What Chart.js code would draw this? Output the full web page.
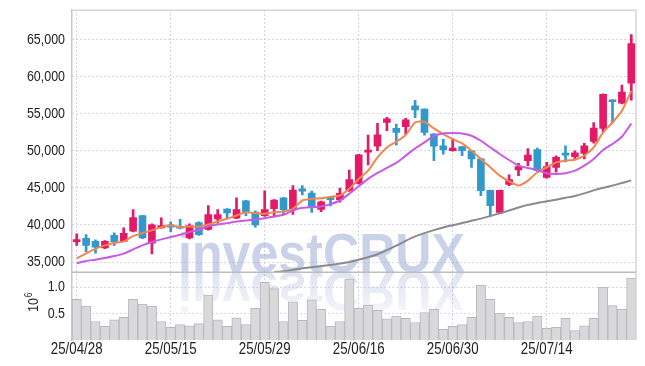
<!DOCTYPE html>
<html>
<head>
<meta charset="utf-8">
<script src="https://cdn.jsdelivr.net/npm/chart.js@4.4.1/dist/chart.umd.min.js"></script>
<style>
  html, body { margin: 0; padding: 0; background: #fff; }
  canvas { display: block; }
</style>
</head>
<body>
<canvas id="chart" width="645" height="366"></canvas>
<script>
// Daily candles
const dates = [
  "25/04/28", "25/04/29", "25/04/30", "25/05/02", "25/05/07", "25/05/08", "25/05/09", "25/05/12", "25/05/13", "25/05/14",
  "25/05/15", "25/05/16", "25/05/19", "25/05/20", "25/05/21", "25/05/22", "25/05/23", "25/05/26", "25/05/27", "25/05/28",
  "25/05/29", "25/05/30", "25/06/02", "25/06/04", "25/06/05", "25/06/09", "25/06/10", "25/06/11", "25/06/12", "25/06/13",
  "25/06/16", "25/06/17", "25/06/18", "25/06/19", "25/06/20", "25/06/23", "25/06/24", "25/06/25", "25/06/26", "25/06/27",
  "25/06/30", "25/07/01", "25/07/02", "25/07/03", "25/07/04", "25/07/07", "25/07/08", "25/07/09", "25/07/10", "25/07/11",
  "25/07/14", "25/07/15", "25/07/16", "25/07/17", "25/07/18", "25/07/21", "25/07/22", "25/07/23", "25/07/24", "25/07/25"
];
const openPrices = [
  37750, 38200, 37800, 36900, 38600, 37780, 39150, 41250, 37550, 39600,
  40000, 39800, 38250, 40300, 39400, 40800, 42150, 40900, 43250, 41700,
  41250, 42200, 43650, 42200, 44850, 44300, 42100, 43700, 43400, 44650,
  45600, 49800, 50600, 53800, 53000, 53250, 56050, 55600, 52250, 50650,
  50000, 50550, 50000, 48900, 44650, 41700, 45450, 47400, 48650, 50150,
  46400, 47750, 49550, 49200, 49650, 51250, 53000, 56800, 56400, 59100
];
const highPrices = [
  38800, 38700, 38000, 37900, 38950, 39600, 42050, 41300, 40150, 40950,
  40400, 40750, 40150, 40400, 42600, 42050, 42200, 43650, 43300, 41900,
  44600, 43400, 43700, 45300, 45300, 44550, 43200, 43850, 44950, 47400,
  49500, 52100, 53700, 54500, 53600, 54350, 56800, 55650, 52300, 51550,
  51650, 50600, 50050, 49000, 44700, 44700, 46750, 48300, 50300, 50350,
  48450, 49300, 50650, 50000, 51000, 53800, 57650, 56850, 58850, 65650
];
const lowPrices = [
  37250, 36350, 36200, 36800, 37250, 37700, 39050, 38150, 36100, 39550,
  39050, 39450, 38100, 38600, 39300, 40250, 40850, 40850, 41250, 39700,
  41150, 41050, 41500, 41400, 44050, 41700, 41800, 42550, 43050, 44500,
  45500, 48100, 50000, 52700, 50750, 52250, 54450, 52100, 48650, 49550,
  49950, 49330, 47750, 43950, 41250, 41650, 45300, 46650, 48000, 47200,
  46300, 47100, 48500, 48900, 48900, 51000, 52450, 53800, 56300, 56800
];
const closePrices = [
  38000, 37250, 37000, 37800, 37700, 38850, 41000, 38250, 40000, 39900,
  39700, 39550, 39900, 38700, 41400, 41400, 41600, 42050, 41700, 40000,
  42050, 43350, 42050, 44700, 44550, 42500, 43100, 43400, 44250, 46100,
  49450, 50100, 52150, 54300, 52450, 54150, 55500, 52450, 50600, 50150,
  50350, 50000, 48900, 44600, 42600, 44650, 46100, 47850, 49400, 47300,
  47850, 49100, 49400, 49700, 50650, 53050, 57600, 56600, 57900, 64450
];

// Moving averages as drawn
const ma5 = [
  35500, 36130, 36800, 37240, 37550, 37780, 38490, 38900, 39260, 39700,
  39930, 39700, 39800, 39750, 40060, 40470, 40830, 41270, 41715, 41580,
  41500, 41715, 41810, 42170, 43290, 43510, 43600, 43780, 43960, 44860,
  46200, 47315, 49100, 50440, 51210, 52110, 53800, 53900, 53000, 52245,
  51570, 50985, 50000, 48890, 47760, 46640, 45880, 45300, 45970, 47090,
  47760, 48430, 48660, 48790, 49330, 50440, 52460, 53800, 55370, 58060
];
const ma20 = [
  34830, 35140, 35320, 35540, 35800, 36130, 36700, 37240, 37690, 38050,
  38360, 38680, 39030, 39350, 39800, 40060, 40240, 40470, 40600, 40730,
  40910, 41140, 41360, 41940, 42300, 42390, 42480, 42800, 43290, 44190,
  45200, 46200, 47000, 47680, 48350, 49330, 50310, 51120, 52000, 52330,
  52380, 52330, 52020, 51340, 50440, 49560, 48750, 47990, 47680, 47380,
  46950, 46870, 46950, 47310, 47990, 48890, 50100, 50900, 51880, 53670
];
const ma60 = [
  null, null, null, null, null, null, null, null, null, null,
  null, null, null, null, null, null, null, null, null, null,
  null, 33650, 33750, 33950, 34150, 34300, 34450, 34600, 34800, 35000,
  35300, 35650, 36050, 36600, 37200, 37850, 38450, 38900, 39300, 39650,
  39950, 40250, 40550, 40850, 41200, 41550, 41950, 42350, 42700, 42950,
  43200, 43400, 43650, 43900, 44250, 44650, 45000, 45300, 45650, 46000
];

// Volume, in millions of shares
const volume = [
  0.77, 0.64, 0.35, 0.26, 0.38, 0.43, 0.77, 0.68, 0.64, 0.35,
  0.24, 0.29, 0.27, 0.31, 0.85, 0.38, 0.26, 0.42, 0.29, 0.60,
  1.09, 0.97, 0.35, 0.72, 0.37, 0.76, 0.58, 0.26, 0.35, 1.15,
  0.60, 0.66, 0.56, 0.40, 0.45, 0.41, 0.33, 0.52, 0.58, 0.20,
  0.26, 0.29, 0.43, 1.04, 0.77, 0.51, 0.43, 0.33, 0.35, 0.45,
  0.22, 0.24, 0.41, 0.18, 0.27, 0.41, 1.00, 0.65, 0.58, 1.17
];

const priceTicks = [35000, 40000, 45000, 50000, 55000, 60000, 65000];
const volumeTicks = [0.5, 1.0];

const UP = '#e31a67';
const DOWN = '#3399cc';
const labelFont = '"Liberation Sans", Arial, sans-serif';
const squeeze = 0.83; // the original labels use a narrow face

const candleColors = closePrices.map((c, i) => c >= openPrices[i] ? UP : DOWN);
const wicks = lowPrices.map((l, i) => [l, highPrices[i]]);
const bodies = openPrices.map((o, i) => [o, closePrices[i]]);

// watermark with its mirror image
const watermark = {
  id: 'watermark',
  beforeDatasetsDraw(chart) {
    const ctx = chart.ctx;
    const text = 'investCRUX';
    const baseY = chart.scales.y.bottom;
    ctx.save();
    ctx.font = 'bold 56px "Liberation Sans", Arial, sans-serif';
    const sx = 287 / ctx.measureText(text).width;
    ctx.translate(178, baseY);
    ctx.scale(sx, 1);
    ctx.fillStyle = 'rgba(150,165,212,0.5)';
    ctx.fillText(text, 0, 0);
    ctx.scale(1, -1);
    const g = ctx.createLinearGradient(0, 0, 0, -42);
    g.addColorStop(0, 'rgba(150,165,212,0.3)');
    g.addColorStop(1, 'rgba(150,165,212,0.1)');
    ctx.fillStyle = g;
    ctx.fillText(text, 0, 0);
    ctx.restore();
  }
};

// narrow text helper
const drawNarrow = (ctx, text, x, y, align) => {
  const w = ctx.measureText(text).width * squeeze;
  const left = align === 'right' ? x - w : align === 'center' ? x - w / 2 : x;
  ctx.save();
  ctx.translate(left, y);
  ctx.scale(squeeze, 1);
  ctx.textAlign = 'left';
  ctx.fillText(text, 0, 0);
  ctx.restore();
};

// frame, panel separator, tick labels and the 10^6 unit
const frame = {
  id: 'frame',
  afterDraw(chart) {
    const { ctx, chartArea: a, scales } = chart;
    const sepY = scales.y.bottom;
    ctx.save();
    ctx.strokeStyle = '#d6d6d6';
    ctx.lineWidth = 1.5;
    ctx.beginPath();
    ctx.moveTo(a.left, a.top);
    ctx.lineTo(a.right, a.top);
    ctx.lineTo(a.right, a.bottom);
    ctx.stroke();
    ctx.strokeStyle = '#bdbdbd';
    ctx.beginPath();
    ctx.moveTo(a.left, sepY);
    ctx.lineTo(a.right, sepY);
    ctx.stroke();

    ctx.fillStyle = '#222';
    ctx.textBaseline = 'middle';
    ctx.font = '15px ' + labelFont;
    priceTicks.forEach(v => drawNarrow(ctx, v.toLocaleString('en-US'), a.left - 7, scales.y.getPixelForValue(v), 'right'));
    volumeTicks.forEach(v => drawNarrow(ctx, v.toFixed(1), a.left - 7, scales.yv.getPixelForValue(v), 'right'));
    ctx.font = '16px ' + labelFont;
    dates.forEach((d, i) => {
      if (i % 10 === 0) drawNarrow(ctx, d, scales.x.getPixelForValue(i), 350, 'center');
    });

    ctx.textBaseline = 'alphabetic';
    ctx.translate(38, 312);
    ctx.rotate(-Math.PI / 2);
    ctx.font = '15px ' + labelFont;
    drawNarrow(ctx, '10', 0, 0, 'left');
    const w = ctx.measureText('10').width * squeeze;
    ctx.font = '10px ' + labelFont;
    drawNarrow(ctx, '6', w + 1, -6, 'left');
    ctx.restore();
  }
};

const lineSet = (data, color) => ({
  type: 'line', data, borderColor: color, borderWidth: 2,
  pointRadius: 0, tension: 0.2, yAxisID: 'y', order: 1
});

new Chart(document.getElementById('chart'), {
  type: 'bar',
  data: {
    labels: dates,
    datasets: [
      lineSet(ma60, '#8a8a8a'),
      lineSet(ma20, '#c95ae6'),
      lineSet(ma5, '#f0874f'),
      { data: wicks, backgroundColor: candleColors, barThickness: 2, grouped: false, yAxisID: 'y', order: 2 },
      { data: bodies, backgroundColor: candleColors, barThickness: 7, minBarLength: 2, grouped: false, yAxisID: 'y', order: 2 },
      { data: volume, backgroundColor: '#d9d9dc', borderColor: '#b8b8bc', borderWidth: 1,
        barPercentage: 1, categoryPercentage: 1, grouped: false, yAxisID: 'yv', order: 3 }
    ]
  },
  options: {
    responsive: false,
    animation: false,
    devicePixelRatio: 1,
    layout: { padding: { top: 9, right: 9, left: 0, bottom: 0 } },
    plugins: { legend: { display: false }, tooltip: { enabled: false } },
    scales: {
      x: {
        offset: true,
        afterFit: s => { s.height = 26; },
        grid: {
          offset: false,
          drawTicks: false,
          color: c => c.index % 10 === 0 ? '#c4c7da' : 'transparent'
        },
        border: { display: false, dash: [1.5, 2.5] },
        ticks: {
          autoSkip: false, maxRotation: 0, padding: 1,
          color: 'transparent', font: { family: labelFont, size: 16 },
          callback: (v, i) => i % 10 === 0 ? dates[i] : ''
        }
      },
      yv: {
        position: 'left', stack: 'panel', stackWeight: 1,
        min: 0, max: 1.28,
        afterFit: s => { s.width = 72; },
        afterBuildTicks: s => { s.ticks = volumeTicks.map(v => ({ value: v })); },
        grid: { drawTicks: false, color: '#c8cade' },
        border: { color: '#c8c8c8', width: 1.5, dash: [1.5, 2.5] },
        ticks: { color: 'transparent', callback: v => v.toFixed(1) }
      },
      y: {
        position: 'left', stack: 'panel', stackWeight: 3.87,
        min: 33617, max: 68935,
        afterFit: s => { s.width = 72; },
        afterBuildTicks: s => { s.ticks = priceTicks.map(v => ({ value: v })); },
        grid: { drawTicks: false, color: '#c8cade' },
        border: { color: '#c8c8c8', width: 1.5, dash: [1.5, 2.5] },
        ticks: { color: 'transparent', callback: v => v.toLocaleString('en-US') }
      }
    }
  },
  plugins: [watermark, frame]
});
</script>
</body>
</html>
